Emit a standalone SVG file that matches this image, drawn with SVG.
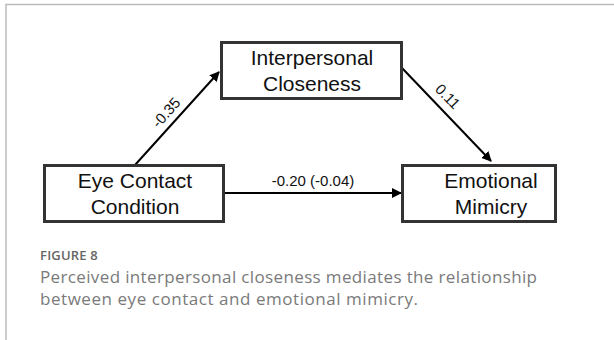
<svg xmlns="http://www.w3.org/2000/svg" width="614" height="340" viewBox="0 0 614 340">
<style>
.box{fill:#fff;stroke:#333;stroke-width:3}
.nt{font-family:"Liberation Sans",Arial,sans-serif;font-size:21px;fill:#111;text-anchor:middle}
.edge{stroke:#000;stroke-width:2;fill:none;marker-end:url(#ah)}
.el{font-family:"Liberation Sans",Arial,sans-serif;font-size:15px;fill:#111;text-anchor:middle}
.fig{font-family:"Open Sans","Lato",sans-serif;font-size:13px;font-weight:600;fill:#666;letter-spacing:0.2px}
.cap{font-family:"Open Sans","Lato",sans-serif;font-size:17px;fill:#7a7a7a}
</style>
<defs>
<marker id="ah" viewBox="0 0 10 10" refX="9" refY="5" markerWidth="5" markerHeight="5" orient="auto" markerUnits="strokeWidth">
<path d="M0,0 L10,5 L0,10 z" fill="#000"/>
</marker>
</defs>
<rect x="0" y="0" width="614" height="340" fill="#fff"/>
<path d="M6,340 V4.5 H614" fill="none" stroke="#bbb" stroke-width="1.5"/>
<g id="connectors">
<line class="edge" x1="135" y1="165" x2="219" y2="72"/>
<line class="edge" x1="402" y1="68" x2="491" y2="161"/>
<line class="edge" x1="223" y1="193" x2="401" y2="193"/>
<text class="el" transform="translate(170,116) rotate(-48)">-0.35</text>
<text class="el" transform="translate(444,100) rotate(46)">0.11</text>
<text class="el" x="313" y="186">-0.20 (-0.04)</text>
</g>
<g id="interpersonal">
<rect class="box" x="221.5" y="42.5" width="180" height="56"/>
<text class="nt" x="312" y="65">Interpersonal</text>
<text class="nt" x="312" y="91">Closeness</text>
</g>
<g id="eyecontact">
<rect class="box" x="44.5" y="165.5" width="179" height="56"/>
<text class="nt" x="135" y="188">Eye Contact</text>
<text class="nt" x="135" y="214">Condition</text>
</g>
<g id="mimicry">
<rect class="box" x="402.5" y="165.5" width="153" height="56"/>
<text class="nt" x="491" y="188">Emotional</text>
<text class="nt" x="491" y="214">Mimicry</text>
</g>
<text class="fig" x="40" y="260">FIGURE 8</text>
<text class="cap" x="40" y="283" textLength="497" lengthAdjust="spacing">Perceived interpersonal closeness mediates the relationship</text>
<text class="cap" x="40" y="305" textLength="378" lengthAdjust="spacing">between eye contact and emotional mimicry.</text>
</svg>
